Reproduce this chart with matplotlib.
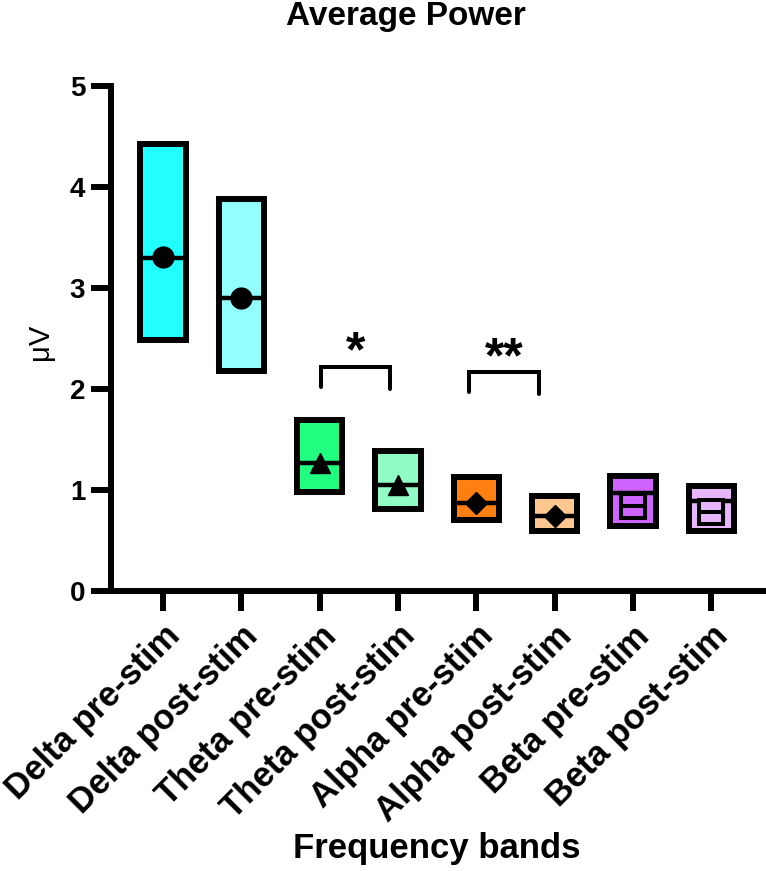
import matplotlib
matplotlib.use("Agg")
import matplotlib.pyplot as plt
import matplotlib.transforms as mtransforms

# data (floating bars min..max, line, mean symbol)
bands = ["Delta pre-stim", "Delta post-stim", "Theta pre-stim", "Theta post-stim",
         "Alpha pre-stim", "Alpha post-stim", "Beta pre-stim", "Beta post-stim"]
mins = [2.48, 2.18, 0.98, 0.81, 0.70, 0.595, 0.645, 0.595]
maxs = [4.43, 3.88, 1.69, 1.39, 1.125, 0.945, 1.14, 1.04]
medians = [3.30, 2.90, 1.27, 1.05, 0.875, 0.745, 0.97, 0.895]
means = [3.31, 2.90, 1.27, 1.05, 0.875, 0.745, 0.845, 0.78]
colors = ["#22FFFF", "#94FFFF", "#22FF80", "#92FCC6",
          "#FF8010", "#FDC78F", "#CF63FF", "#E8B6FC"]
markers = ["o", "o", "^", "^", "D", "D", "s", "s"]

# significance brackets: (x left, x right, y top, y bottom left, y bottom right, label)
brackets = [(2.02, 2.90, 2.22, 2.02, 2.00, "*"),
            (3.91, 4.80, 2.165, 1.97, 1.95, "**")]

plt.rcParams["font.family"] = ["Liberation Sans", "DejaVu Sans"]

fig = plt.figure(figsize=(7.66, 8.71), dpi=100)
ax = fig.add_axes([0.1445, 0.3215, 0.853, 0.5798])

x = list(range(len(bands)))
w = 0.58
heights = [mx - mn for mn, mx in zip(mins, maxs)]
ax.bar(x, heights, bottom=mins, width=w, color=colors, edgecolor="black",
       linewidth=4.3, zorder=2)

# line across each bar
ax.hlines(medians, [i - w / 2 for i in x], [i + w / 2 for i in x],
          colors="black", linewidth=3.2, zorder=3)

# mean symbols
for i in x:
    m = markers[i]
    if m == "o":
        ax.plot(i, means[i], "o", color="black", ms=15, zorder=4)
    elif m == "^":
        ax.plot(i, means[i], "^", color="black", ms=15, zorder=4)
    elif m == "D":
        ax.plot(i, means[i], "D", color="black", ms=11, zorder=4)
    else:
        ax.plot(i, means[i], "s", mfc=colors[i], mec="black", mew=2.9, ms=17, zorder=4)
        ax.plot(i, means[i], "_", color="black", mew=2.9, ms=17, zorder=5)

# brackets and stars
for xl, xr, yt, ybl, ybr, lab in brackets:
    ax.plot([xl, xl, xr, xr], [ybl, yt, yt, ybr], color="black", lw=2.9,
            solid_capstyle="round", solid_joinstyle="miter", zorder=3)
    ax.text((xl + xr) / 2, yt + 0.0, lab, ha="center", va="baseline",
            fontsize=36, fontweight="bold")

ax.set_xlim(-0.668, 7.675)
ax.set_ylim(0, 5)
ax.set_yticks([0, 1, 2, 3, 4, 5])
ax.set_xticks(x)
ax.set_xticklabels(bands, rotation=45, ha="right", va="top", rotation_mode="anchor",
                   fontsize=25, fontweight="bold")
for lab in ax.get_yticklabels():
    lab.set_fontsize(20)
    lab.set_fontweight("bold")

offset = mtransforms.ScaledTranslation(10 / 100, 2 / 100, fig.dpi_scale_trans)
for lab in ax.get_xticklabels():
    lab.set_transform(lab.get_transform() + offset)

ax.tick_params(axis="both", length=14.4, width=4.3, direction="out")
ax.tick_params(axis="y", pad=4)
ax.tick_params(axis="x", pad=6)

ax.spines["top"].set_visible(False)
ax.spines["right"].set_visible(False)
ax.spines["left"].set_linewidth(4.3)
ax.spines["bottom"].set_linewidth(4.3)

fig.text(406 / 766, 1 - 17 / 871, "Average Power", ha="center", va="center",
         fontsize=24, fontweight="bold")
fig.text(40 / 766, 1 - 342 / 871, "μV", ha="center", va="center", rotation=90,
         fontsize=21)
fig.text(437 / 766, 1 - 848 / 871, "Frequency bands", ha="center", va="center",
         fontsize=25, fontweight="bold")

fig.savefig("out.png", dpi=100)
